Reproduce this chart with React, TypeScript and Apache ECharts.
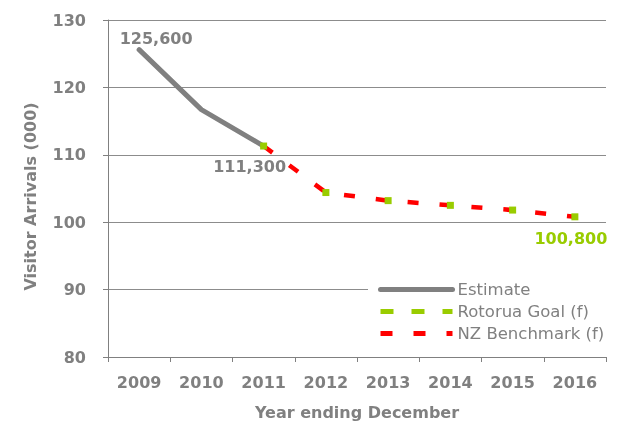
import React, { useEffect, useRef } from "react";
import * as echarts from "echarts";

const years = ["2009", "2010", "2011", "2012", "2013", "2014", "2015", "2016"];
const estimate = [125.6, 116.7, 111.3, null, null, null, null, null];
const rotoruaGoal = [null, null, 111.3, 104.4, 103.2, 102.5, 101.8, 100.8];
const nzBenchmark = [null, null, 111.3, 104.4, 103.2, 102.5, 101.8, 100.8];
const yTicks = { min: 80, max: 130, interval: 10 };

const GREY = "#808080";
const GREEN = "#99cc00";
const RED = "#ff0000";
const FONT = "DejaVu Sans";

const fmtThousands = (v: number) =>
  Math.round(v * 1000).toLocaleString("en-US");

export default function App() {
  const ref = useRef<HTMLDivElement>(null);

  useEffect(() => {
    if (!ref.current) return;
    const chart = echarts.init(ref.current, undefined, { renderer: "svg" });

    const labelBase = {
      show: true,
      fontFamily: FONT,
      fontWeight: "bold" as const,
      fontSize: 16,
      formatter: (p: any) => fmtThousands(p.value),
    };

    const estimateData = estimate.map((v, i) => {
      if (i === 0)
        return { value: v, label: { ...labelBase, color: GREY, position: "top", offset: [17, 2] } };
      if (i === 2)
        return { value: v, label: { ...labelBase, color: GREY, position: "bottom", offset: [-14, 7] } };
      return v;
    });

    const goalData = rotoruaGoal.map((v, i) => {
      if (i === rotoruaGoal.length - 1)
        return { value: v, label: { ...labelBase, color: GREEN, position: "bottom", offset: [-4, 5] } };
      return v;
    });

    chart.setOption({
      animation: false,
      textStyle: { fontFamily: FONT },
      grid: { left: 108, right: 19, top: 20, bottom: 69, containLabel: false },
      legend: {
        left: 368,
        top: 273,
        orient: "vertical",
        backgroundColor: "#ffffff",
        padding: [8, 4, 4, 10],
        itemWidth: 72,
        itemHeight: 14,
        itemGap: 5,
        textStyle: { fontFamily: FONT, fontSize: 16.5, color: GREY },
        data: [
          {
            name: "Estimate",
            lineStyle: { color: GREY, width: 5, cap: "round" },
            itemStyle: { opacity: 0 },
          },
          {
            name: "Rotorua Goal (f)",
            lineStyle: { opacity: 1, color: GREEN, width: 5, type: [13, 18] },
            itemStyle: { opacity: 0 },
          },
          {
            name: "NZ Benchmark (f)",
            lineStyle: { color: RED, width: 5, type: [12, 21] },
            itemStyle: { opacity: 0 },
          },
        ],
      },
      xAxis: {
        type: "category",
        data: years,
        boundaryGap: true,
        axisLine: { lineStyle: { color: GREY, width: 1 } },
        axisTick: { show: true, length: 5, lineStyle: { color: GREY } },
        axisLabel: {
          color: GREY,
          fontFamily: FONT,
          fontWeight: "bold",
          fontSize: 16,
          margin: 17,
        },
        name: "Year ending December",
        nameLocation: "middle",
        nameGap: 47,
        nameTextStyle: {
          color: GREY,
          fontFamily: FONT,
          fontWeight: "bold",
          fontSize: 16,
        },
      },
      yAxis: {
        type: "value",
        min: yTicks.min,
        max: yTicks.max,
        interval: yTicks.interval,
        axisLine: { show: true, lineStyle: { color: GREY, width: 1 } },
        axisTick: { show: true, length: 5, lineStyle: { color: GREY } },
        splitLine: { show: true, lineStyle: { color: "#8c8c8c", width: 1 } },
        axisLabel: {
          color: GREY,
          fontFamily: FONT,
          fontWeight: "bold",
          fontSize: 16,
          margin: 22,
        },
        name: "Visitor Arrivals (000)",
        nameLocation: "middle",
        nameGap: 70,
        nameTextStyle: {
          color: GREY,
          fontFamily: FONT,
          fontWeight: "bold",
          fontSize: 16,
          padding: [0, 16, 0, 0],
        },
      },
      series: [
        {
          name: "Estimate",
          type: "line",
          data: estimateData,
          symbol: "circle",
          symbolSize: 1,
          showAllSymbol: true,
          lineStyle: { color: GREY, width: 5, cap: "round" },
          itemStyle: { color: "rgba(0,0,0,0)" },
          z: 2,
        },
        {
          name: "NZ Benchmark (f)",
          type: "line",
          data: nzBenchmark,
          symbol: "none",
          lineStyle: { color: RED, width: 4.5, type: [11, 21] },
          itemStyle: { color: RED },
          z: 3,
        },
        {
          name: "Rotorua Goal (f)",
          type: "line",
          data: goalData,
          symbol: "rect",
          symbolSize: 7,
          showAllSymbol: true,
          lineStyle: { color: GREEN, width: 5, opacity: 0 },
          itemStyle: { color: GREEN },
          z: 4,
        },
      ],
    });

    return () => chart.dispose();
  }, []);

  return (
    <div
      ref={ref}
      style={{ position: "fixed", left: 0, top: 0, width: 625, height: 426 }}
    />
  );
}
